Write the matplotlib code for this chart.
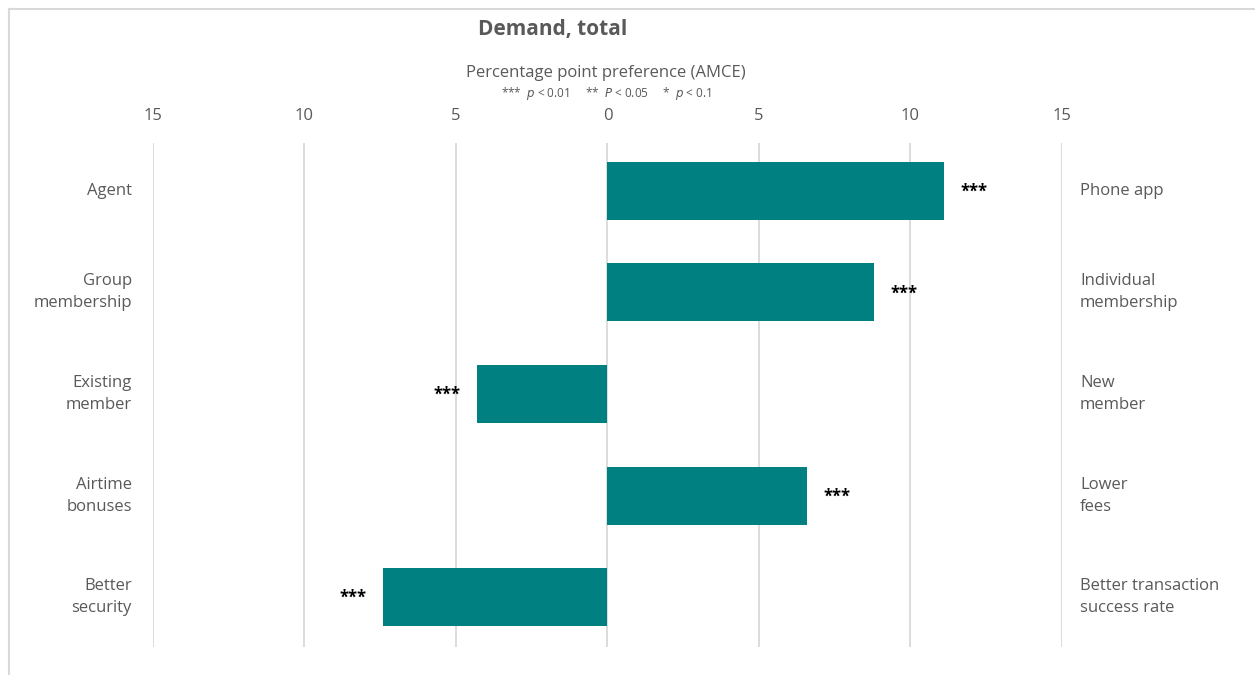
import numpy as np
import matplotlib.pyplot as plt
from matplotlib.lines import Line2D

leftLabels = ['Agent', 'Group\nmembership', 'Existing\nmember', 'Airtime\nbonuses', 'Better\nsecurity']
rightLabels = ['Phone app', 'Individual\nmembership', 'New\nmember', 'Lower\nfees', 'Better transaction\nsuccess rate']
amce = [11.1, 8.8, -4.3, 6.6, -7.4]
stars = ['***', '***', '***', '***', '***']
ticks = [-15, -10, -5, 0, 5, 10, 15]

barColor = '#008080'
textColor = '#595959'
gridColor = '#d9d9d9'

plt.rcParams['font.family'] = ['Open Sans', 'DejaVu Sans']

fig = plt.figure(figsize=(12.55, 6.75), dpi=100)
ax = fig.add_axes([0.1219, 0.0415, 0.7243, 0.7465])

ypos = np.arange(len(amce))
ax.barh(ypos, amce, height=0.57, color=barColor, zorder=3)
ax.set_xlim(-15, 15)
ax.set_ylim(4.49, -0.47)

for t in ticks:
    ax.axvline(t, color=gridColor, lw=1.3, zorder=1)

for s in ax.spines.values():
    s.set_visible(False)
ax.set_yticks([])
ax.xaxis.tick_top()
ax.set_xticks(ticks)
ax.set_xticklabels([str(abs(t)) for t in ticks], color=textColor, fontsize=12)
ax.tick_params(axis='x', length=0, pad=14)

for y, v, s in zip(ypos, amce, stars):
    off = 30 if v > 0 else -30
    ax.annotate(s, (v, y), xytext=(off, -1), textcoords='offset pixels',
                ha='center', va='center', fontsize=12, fontweight='bold', color='black')

for y, lab in zip(ypos, leftLabels):
    ax.annotate(lab, (-15, y), xytext=(-21, 0), textcoords='offset pixels',
                ha='right', va='center', fontsize=12, color=textColor, linespacing=1.5)
for y, lab in zip(ypos, rightLabels):
    ax.annotate(lab, (15, y), xytext=(18, 0), textcoords='offset pixels',
                ha='left', va='center', fontsize=12, color=textColor, linespacing=1.5)

fig.text(553 / 1255, 1 - 30 / 675, 'Demand, total', ha='center', va='center',
         fontsize=15, fontweight='bold', color=textColor)
fig.text(606 / 1255, 1 - 73 / 675, 'Percentage point preference (AMCE)', ha='center', va='center',
         fontsize=12, color=textColor)
fig.text(606 / 1255, 1 - 93 / 675,
         r'***  $\it{p}$ < 0.01     **  $\it{P}$ < 0.05     *  $\it{p}$ < 0.1',
         ha='center', va='center', fontsize=8.5, color=textColor)

# light frame
fig.add_artist(Line2D([9 / 1255, 1], [1 - 9 / 675, 1 - 9 / 675], color=gridColor, lw=1.5,
                      transform=fig.transFigure))
fig.add_artist(Line2D([9 / 1255, 9 / 1255], [0, 1 - 9 / 675], color=gridColor, lw=1.5,
                      transform=fig.transFigure))

fig.savefig('out.png', dpi=100, facecolor='white')
